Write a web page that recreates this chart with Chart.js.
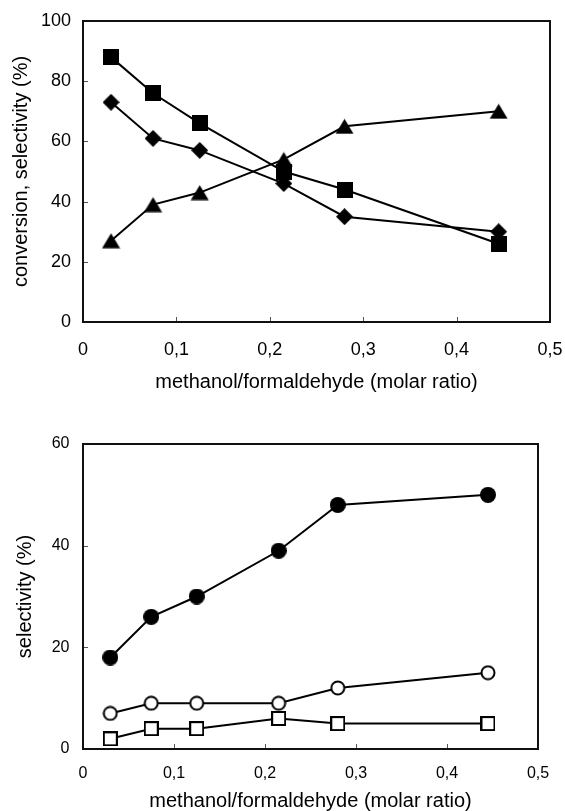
<!DOCTYPE html>
<html>
<head>
<meta charset="utf-8">
<script src="https://cdn.jsdelivr.net/npm/chart.js@4/dist/chart.umd.min.js"></script>
<style>
  html, body { margin: 0; padding: 0; background: #fff; overflow: hidden; }
  #top, #bottom { position: absolute; left: 0; }
  #top { top: 0; }
  #bottom { top: 400px; }
</style>
</head>
<body>
<canvas id="top" width="565" height="400"></canvas>
<canvas id="bottom" width="565" height="415"></canvas>
<script>
// Methanol/formaldehyde molar ratio of each run
const molarRatio = [0.03, 0.075, 0.125, 0.215, 0.28, 0.445];

// Upper panel: conversion and selectivity (%)
const squareSeries = [88, 76, 66, 50, 44, 26];
const diamondSeries = [73, 61, 57, 46, 35, 30];
const triangleSeries = [27, 39, 43, 54, 65, 70];

// Lower panel: selectivity (%)
const filledCircleSeries = [18, 26, 30, 39, 48, 50];
const openCircleSeries = [7, 9, 9, 9, 12, 15];
const openSquareSeries = [2, 4, 4, 6, 5, 5];

// Axis tick labels
const xTickLabels = ['0', '0,1', '0,2', '0,3', '0,4', '0,5'];
const topYTickLabels = ['0', '20', '40', '60', '80', '100'];
const bottomYTickLabels = ['0', '20', '40', '60'];

const xTitle = 'methanol/formaldehyde (molar ratio)';
const topYTitle = 'conversion, selectivity (%)';
const bottomYTitle = 'selectivity (%)';

Chart.defaults.font.family = '"Liberation Sans", Arial, Helvetica, sans-serif';
Chart.defaults.color = '#000';

// Marker glyphs drawn on small canvases
function glyph(w, h, paint) {
  const c = document.createElement('canvas');
  c.width = w; c.height = h;
  const g = c.getContext('2d');
  paint(g, w, h);
  return c;
}
const mkSquare = glyph(16, 16, (g) => { g.fillStyle = '#000'; g.fillRect(0, 0, 16, 16); });
const mkDiamond = glyph(17, 17, (g) => {
  g.fillStyle = '#000'; g.beginPath();
  g.moveTo(8.5, 0); g.lineTo(17, 8.5); g.lineTo(8.5, 17); g.lineTo(0, 8.5);
  g.closePath(); g.fill();
});
const mkTriangle = glyph(19, 16, (g) => {
  g.fillStyle = '#000'; g.beginPath();
  g.moveTo(9.5, 0.5); g.lineTo(18.5, 15.5); g.lineTo(0.5, 15.5);
  g.closePath(); g.fill();
});
const mkDot = glyph(16, 16, (g) => {
  g.fillStyle = '#000'; g.beginPath(); g.arc(8, 8, 8, 0, Math.PI * 2); g.fill();
});
const mkRing = glyph(16, 16, (g) => {
  g.beginPath(); g.arc(8, 8, 6.5, 0, Math.PI * 2);
  g.fillStyle = '#fff'; g.fill();
  g.lineWidth = 2; g.strokeStyle = '#000'; g.stroke();
});
const mkBox = glyph(15, 15, (g) => {
  g.fillStyle = '#fff'; g.fillRect(1, 1, 13, 13);
  g.lineWidth = 2; g.strokeStyle = '#000'; g.strokeRect(1, 1, 13, 13);
});

function series(values, marker) {
  return {
    data: values.map((v, i) => ({ x: molarRatio[i], y: v })),
    showLine: true,
    borderColor: '#000',
    borderWidth: 2,
    pointStyle: marker,
    pointRadius: 8,
    pointHoverRadius: 8,
    tension: 0
  };
}

// Closed frame around the plot area plus short inward tick marks
const framePlugin = {
  id: 'frame',
  beforeDatasetsDraw(chart) {
    const { ctx, chartArea: a, scales } = chart;
    ctx.save();
    ctx.strokeStyle = '#555';
    ctx.lineWidth = 1;
    ctx.beginPath();
    scales.x.ticks.forEach(t => {
      const px = Math.round(scales.x.getPixelForValue(t.value)) + 0.5;
      ctx.moveTo(px, a.bottom); ctx.lineTo(px, a.bottom - 5);
    });
    scales.y.ticks.forEach(t => {
      const py = Math.round(scales.y.getPixelForValue(t.value)) + 0.5;
      ctx.moveTo(a.left, py); ctx.lineTo(a.left + 5, py);
    });
    ctx.stroke();
    ctx.strokeStyle = '#111';
    ctx.lineWidth = 2;
    ctx.strokeRect(a.left, a.top, a.right - a.left, a.bottom - a.top);
    ctx.restore();
  }
};

function makeChart(id, cfg) {
  return new Chart(document.getElementById(id), {
    type: 'scatter',
    data: { datasets: cfg.datasets },
    plugins: [framePlugin],
    options: {
      responsive: false,
      animation: false,
      devicePixelRatio: 1,
      layout: { padding: cfg.padding },
      plugins: { legend: { display: false }, tooltip: { enabled: false } },
      scales: {
        x: {
          type: 'linear', min: 0, max: 0.5,
          grid: { display: false, drawTicks: false },
          border: { display: false },
          ticks: {
            stepSize: 0.1, padding: cfg.xTickPad, maxRotation: 0,
            font: { size: cfg.tickSize },
            callback: (v, i) => xTickLabels[i]
          },
          title: {
            display: true, text: xTitle,
            font: { size: 20 }, padding: { top: 0, bottom: cfg.xTitlePad }
          },
          afterFit(s) { s.height = cfg.xHeight; s.paddingLeft = 0; s.paddingRight = 0; }
        },
        y: {
          type: 'linear', min: 0, max: cfg.yMax,
          grid: { display: false, drawTicks: false },
          border: { display: false },
          ticks: {
            stepSize: 20, padding: cfg.yTickPad,
            font: { size: cfg.tickSize },
            callback: (v, i) => cfg.yLabels[i]
          },
          title: {
            display: true, text: cfg.yTitle,
            font: { size: 20 }, padding: { top: cfg.yTitlePad, bottom: 0 }
          },
          afterFit(s) { s.width = 83; s.paddingTop = 0; s.paddingBottom = 0; }
        }
      }
    }
  });
}

makeChart('top', {
  datasets: [
    series(squareSeries, mkSquare),
    series(diamondSeries, mkDiamond),
    series(triangleSeries, mkTriangle)
  ],
  padding: { left: 0, right: 15, top: 21, bottom: 0 },
  xHeight: 78, yMax: 100, yLabels: topYTickLabels, yTitle: topYTitle,
  tickSize: 18, xTickPad: 17, yTickPad: 12, xTitlePad: 6, yTitlePad: 9.5
});

makeChart('bottom', {
  datasets: [
    series(filledCircleSeries, mkDot),
    series(openCircleSeries, mkRing),
    series(openSquareSeries, mkBox)
  ],
  padding: { left: 0, right: 27, top: 44, bottom: 0 },
  xHeight: 66, yMax: 60, yLabels: bottomYTickLabels, yTitle: bottomYTitle,
  tickSize: 16, xTickPad: 14.5, yTickPad: 13.5, xTitlePad: 2, yTitlePad: 13.5
});
</script>
</body>
</html>
